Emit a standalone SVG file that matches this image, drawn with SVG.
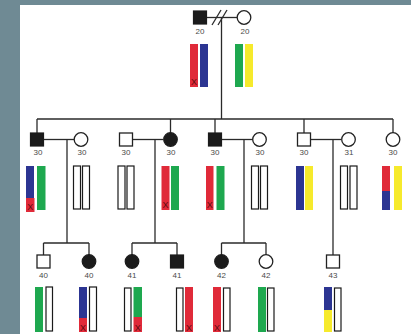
<svg xmlns="http://www.w3.org/2000/svg" width="411" height="334" viewBox="0 0 411 334">
  <style>
    .ln { stroke: #2a2a2a; stroke-width: 1.3; fill: none; }
    .aff { fill: #1b1b1b; stroke: #1b1b1b; stroke-width: 1.2; }
    .unaff { fill: #ffffff; stroke: #222222; stroke-width: 1.3; }
    .lbl { font-family: "Liberation Sans", Arial, sans-serif; font-size: 8px; fill: #4a4a4a; text-anchor: middle; }
    .xm { font-family: "Liberation Sans", Arial, sans-serif; font-size: 9px; fill: #5e0d12; text-anchor: middle; }
    .red { fill: #e02a39; }
    .blue { fill: #2c3592; }
    .green { fill: #1ea84f; }
    .yellow { fill: #f6ea2c; }
    .empty { fill: #ffffff; stroke: #1a1a1a; stroke-width: 1.2; }
  </style>

  <!-- backdrop and page -->
  <rect x="0" y="0" width="411" height="334" fill="#6f8a94"/>
  <rect x="20" y="5" width="391" height="329" fill="#ffffff"/>

  <!-- connectors: marriage, descent and sibship lines -->
  <g id="connectors" class="ln">
    <!-- generation I -->
    <line x1="207" y1="17.5" x2="237" y2="17.5"/>
    <line x1="212" y1="25" x2="221" y2="10"/>
    <line x1="218" y1="25" x2="227" y2="10"/>
    <line x1="221.5" y1="17.5" x2="221.5" y2="119"/>
    <!-- generation II sibship -->
    <line x1="37" y1="119" x2="393" y2="119"/>
    <line x1="37" y1="119" x2="37" y2="133"/>
    <line x1="170.5" y1="119" x2="170.5" y2="133"/>
    <line x1="215" y1="119" x2="215" y2="133"/>
    <line x1="304" y1="119" x2="304" y2="133"/>
    <line x1="393" y1="119" x2="393" y2="133"/>
    <!-- generation II couples -->
    <line x1="44" y1="139.5" x2="74" y2="139.5"/>
    <line x1="67" y1="139.5" x2="67" y2="243"/>
    <line x1="133" y1="139.5" x2="163" y2="139.5"/>
    <line x1="155" y1="139.5" x2="155" y2="243"/>
    <line x1="222" y1="139.5" x2="253" y2="139.5"/>
    <line x1="244" y1="139.5" x2="244" y2="243"/>
    <line x1="311" y1="139.5" x2="341" y2="139.5"/>
    <line x1="333" y1="139.5" x2="333" y2="255"/>
    <!-- generation III sibships -->
    <line x1="43.5" y1="243" x2="89" y2="243"/>
    <line x1="43.5" y1="243" x2="43.5" y2="255"/>
    <line x1="89" y1="243" x2="89" y2="255"/>
    <line x1="132" y1="243" x2="177" y2="243"/>
    <line x1="132" y1="243" x2="132" y2="255"/>
    <line x1="177" y1="243" x2="177" y2="255"/>
    <line x1="221.5" y1="243" x2="266" y2="243"/>
    <line x1="221.5" y1="243" x2="221.5" y2="255"/>
    <line x1="266" y1="243" x2="266" y2="255"/>
  </g>

  <!-- generation I -->
  <g id="I-1">
    <rect class="aff" x="193.5" y="11" width="13" height="13"/>
    <text class="lbl" x="200" y="34">20</text>
    <rect class="red" x="190" y="44" width="8" height="43"/>
    <rect class="blue" x="200" y="44" width="8" height="43"/>
    <text class="xm" x="194" y="85">X</text>
  </g>
  <g id="I-2">
    <circle class="unaff" cx="244" cy="17.5" r="6.8"/>
    <text class="lbl" x="245" y="34">20</text>
    <rect class="green" x="235" y="44" width="8" height="43"/>
    <rect class="yellow" x="245" y="44" width="8" height="43"/>
  </g>

  <!-- generation II -->
  <g id="II-1">
    <rect class="aff" x="30.5" y="133" width="13" height="13"/>
    <text class="lbl" x="38" y="155">30</text>
    <rect class="blue" x="26" y="166" width="8" height="32"/>
    <rect class="red" x="26" y="198" width="8.5" height="14"/>
    <text class="xm" x="30.2" y="210">X</text>
    <rect class="green" x="37" y="166" width="8.5" height="44"/>
  </g>
  <g id="II-2">
    <circle class="unaff" cx="81" cy="139.5" r="6.8"/>
    <text class="lbl" x="82" y="155">30</text>
    <rect class="empty" x="73.5" y="166" width="7" height="43"/>
    <rect class="empty" x="82.5" y="166" width="7" height="43"/>
  </g>
  <g id="II-3">
    <rect class="unaff" x="119.5" y="133" width="13" height="13"/>
    <text class="lbl" x="126" y="155">30</text>
    <rect class="empty" x="118" y="166" width="7" height="43"/>
    <rect class="empty" x="127" y="166" width="7" height="43"/>
  </g>
  <g id="II-4">
    <circle class="aff" cx="170.5" cy="139.5" r="6.8"/>
    <text class="lbl" x="171" y="155">30</text>
    <rect class="red" x="161.5" y="166" width="8" height="44"/>
    <text class="xm" x="165.5" y="208">X</text>
    <rect class="green" x="171" y="166" width="8" height="44"/>
  </g>
  <g id="II-5">
    <rect class="aff" x="208.5" y="133" width="13" height="13"/>
    <text class="lbl" x="215" y="155">30</text>
    <rect class="red" x="206" y="166" width="7.5" height="44"/>
    <text class="xm" x="209.8" y="208">X</text>
    <rect class="green" x="216.5" y="166" width="8" height="44"/>
  </g>
  <g id="II-6">
    <circle class="unaff" cx="259.5" cy="139.5" r="6.8"/>
    <text class="lbl" x="260" y="155">30</text>
    <rect class="empty" x="251.5" y="166" width="7" height="43"/>
    <rect class="empty" x="260.5" y="166" width="7" height="43"/>
  </g>
  <g id="II-7">
    <rect class="unaff" x="297.5" y="133" width="13" height="13"/>
    <text class="lbl" x="304" y="155">30</text>
    <rect class="blue" x="296" y="166" width="8" height="44"/>
    <rect class="yellow" x="305" y="166" width="8" height="44"/>
  </g>
  <g id="II-8">
    <circle class="unaff" cx="348.5" cy="139.5" r="6.8"/>
    <text class="lbl" x="349" y="155">31</text>
    <rect class="empty" x="340.5" y="166" width="7" height="43"/>
    <rect class="empty" x="350" y="166" width="7" height="43"/>
  </g>
  <g id="II-9">
    <circle class="unaff" cx="393" cy="139.5" r="6.8"/>
    <text class="lbl" x="393" y="155">30</text>
    <rect class="red" x="382" y="166" width="8" height="25"/>
    <rect class="blue" x="382" y="191" width="8" height="19"/>
    <rect class="yellow" x="394" y="166" width="8" height="44"/>
  </g>

  <!-- generation III -->
  <g id="III-1">
    <rect class="unaff" x="37" y="255" width="13" height="13"/>
    <text class="lbl" x="43.5" y="278">40</text>
    <rect class="green" x="35" y="287" width="8" height="45"/>
    <rect class="empty" x="46" y="287" width="6.5" height="44"/>
  </g>
  <g id="III-2">
    <circle class="aff" cx="89" cy="261.5" r="6.8"/>
    <text class="lbl" x="89" y="278">40</text>
    <rect class="blue" x="79" y="287" width="8" height="31"/>
    <rect class="red" x="79" y="318" width="8" height="14"/>
    <text class="xm" x="83" y="331">X</text>
    <rect class="empty" x="89.5" y="287" width="7" height="44"/>
  </g>
  <g id="III-3">
    <circle class="aff" cx="132" cy="261.5" r="6.8"/>
    <text class="lbl" x="132" y="278">41</text>
    <rect class="empty" x="124.5" y="288" width="6.5" height="43"/>
    <rect class="green" x="133.5" y="287" width="8.5" height="30"/>
    <rect class="red" x="133.5" y="317" width="8.5" height="15"/>
    <text class="xm" x="137.8" y="331">X</text>
  </g>
  <g id="III-4">
    <rect class="aff" x="170.5" y="255" width="13" height="13"/>
    <text class="lbl" x="177" y="278">41</text>
    <rect class="empty" x="176.5" y="288" width="6.5" height="43"/>
    <rect class="red" x="185" y="287" width="8" height="45"/>
    <text class="xm" x="189" y="331">X</text>
  </g>
  <g id="III-5">
    <circle class="aff" cx="221.5" cy="261.5" r="6.8"/>
    <text class="lbl" x="221.5" y="278">42</text>
    <rect class="red" x="213" y="287" width="8" height="45"/>
    <text class="xm" x="217" y="331">X</text>
    <rect class="empty" x="223.5" y="288" width="6.5" height="43"/>
  </g>
  <g id="III-6">
    <circle class="unaff" cx="266" cy="261.5" r="6.8"/>
    <text class="lbl" x="266" y="278">42</text>
    <rect class="green" x="258" y="287" width="8" height="45"/>
    <rect class="empty" x="267.5" y="288" width="6.5" height="43"/>
  </g>
  <g id="III-7">
    <rect class="unaff" x="326.5" y="255" width="13" height="13"/>
    <text class="lbl" x="333" y="278">43</text>
    <rect class="blue" x="324" y="287" width="8" height="23"/>
    <rect class="yellow" x="324" y="310" width="8" height="22"/>
    <rect class="empty" x="334.5" y="288" width="6.5" height="43"/>
  </g>
</svg>
